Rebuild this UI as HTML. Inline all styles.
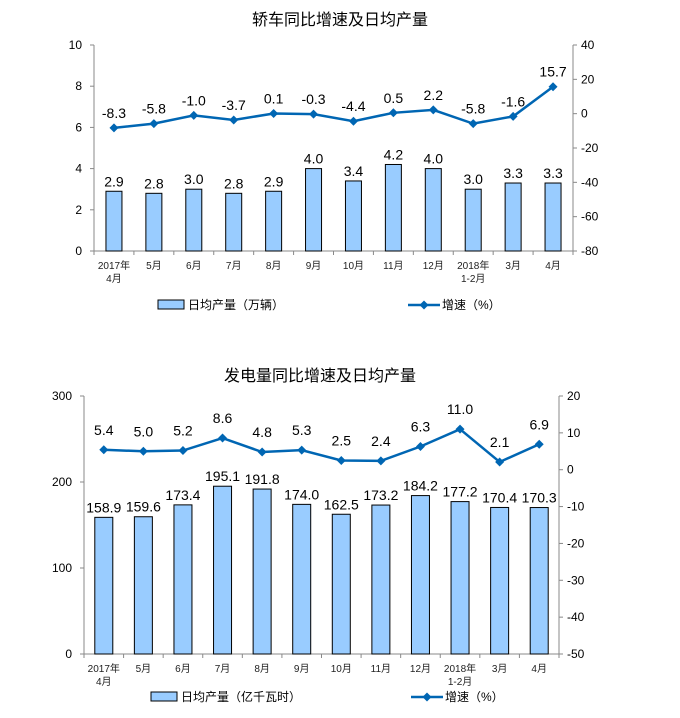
<!DOCTYPE html>
<html><head><meta charset="utf-8"><style>
body{margin:0;background:#fff;}
svg{display:block;font-family:"Liberation Sans","Noto Sans CJK SC",sans-serif;}
</style></head><body>
<svg id="s" width="680" height="718" xmlns="http://www.w3.org/2000/svg"></svg>
<script>
const months=["2017年|4月","5月","6月","7月","8月","9月","10月","11月","12月","2018年|1-2月","3月","4月"];
const carOutput=[2.9,2.8,3.0,2.8,2.9,4.0,3.4,4.2,4.0,3.0,3.3,3.3];
const carGrowth=[-8.3,-5.8,-1.0,-3.7,0.1,-0.3,-4.4,0.5,2.2,-5.8,-1.6,15.7];
const carLeftTicks=[0,2,4,6,8,10];
const carRightTicks=[-80,-60,-40,-20,0,20,40];
const powerOutput=[158.9,159.6,173.4,195.1,191.8,174.0,162.5,173.2,184.2,177.2,170.4,170.3];
const powerGrowth=[5.4,5.0,5.2,8.6,4.8,5.3,2.5,2.4,6.3,11.0,2.1,6.9];
const powerLeftTicks=[0,100,200,300];
const powerRightTicks=[-50,-40,-30,-20,-10,0,10,20];

const svg=document.getElementById('s');
const NS="http://www.w3.org/2000/svg";
function mk(tag,attrs,parent,text){const e=document.createElementNS(NS,tag);for(const k in attrs)e.setAttribute(k,attrs[k]);if(text!==undefined)e.textContent=text;parent.appendChild(e);return e;}

function chart(cfg){
  const g=mk('g',{},svg);
  
  
  const {x0,x1,yTop,yBot,lmin,lmax,rmin,rmax}=cfg;
  const n=months.length, cw=(x1-x0)/n;
  const yL=v=>yBot-(v-lmin)/(lmax-lmin)*(yBot-yTop);
  const yR=v=>yBot-(v-rmin)/(rmax-rmin)*(yBot-yTop);
  const cx=i=>x0+cw*(i+0.5);
  const t=mk('text',{x:cfg.titleX,y:cfg.titleY,'font-size':16,'text-anchor':'middle',fill:'#000'},g,cfg.title);
  
  
  mk('line',{x1:x0,y1:yTop,x2:x0,y2:yBot,stroke:'#888'},g);
  mk('line',{x1:x1,y1:yTop,x2:x1,y2:yBot,stroke:'#888'},g);
  mk('line',{x1:x0,y1:yBot,x2:x1,y2:yBot,stroke:'#888'},g);
  cfg.lt.forEach(v=>{mk('line',{x1:x0-4,y1:yL(v),x2:x0,y2:yL(v),stroke:'#888'},g);
    const e=mk('text',{x:x0-12,y:yL(v)+4,'font-size':12,'text-anchor':'end'},g,v);
    });
  cfg.rt.forEach(v=>{mk('line',{x1:x1,y1:yR(v),x2:x1+4,y2:yR(v),stroke:'#888'},g);
    const e=mk('text',{x:x1+8,y:yR(v)+4,'font-size':12},g,v);
    });
  for(let i=0;i<=n;i++)mk('line',{x1:x0+cw*i,y1:yBot,x2:x0+cw*i,y2:yBot+4,stroke:'#888'},g);
  months.forEach((m,i)=>{const p=m.split('|');p.forEach((s,j)=>{
    const e=mk('text',{x:cx(i),y:yBot+18+j*13,'font-size':10,'text-anchor':'middle',fill:'#222'},g,s);
    });});
  cfg.bars.forEach((v,i)=>{
    const r=mk('rect',{x:cx(i)-cfg.bw/2,y:yL(v),width:cfg.bw,height:yBot-yL(v),fill:'#99ccff',stroke:'#000','stroke-width':1},g);
    
    const e=mk('text',{x:cx(i),y:yL(v)-5,'font-size':14,'text-anchor':'middle'},g,v.toFixed(1));
    });
  const pts=cfg.line.map((v,i)=>cx(i)+','+yR(v)).join(' ');
  const pl=mk('polyline',{points:pts,fill:'none',stroke:'#0066b3','stroke-width':2.5},g);
  
  cfg.line.forEach((v,i)=>{const y=yR(v),x=cx(i);
    const d=mk('polygon',{points:`${x},${y-4.5} ${x+4.5},${y} ${x},${y+4.5} ${x-4.5},${y}`,fill:'#0066b3'},g);
    
    const e=mk('text',{x:x,y:y-cfg.lo,'font-size':14,'text-anchor':'middle'},g,v.toFixed(1));
    });
  const lg=mk('g',{},g);
  
  mk('rect',{x:cfg.lgx,y:cfg.lgy-5,width:26,height:9,fill:'#99ccff',stroke:'#000'},lg);
  mk('text',{x:cfg.lgx+30,y:cfg.lgy+4,'font-size':12},lg,cfg.barLabel);
  mk('line',{x1:cfg.lgx2,y1:cfg.lgy,x2:cfg.lgx2+32,y2:cfg.lgy,stroke:'#0066b3','stroke-width':2.5},lg);
  const mx=cfg.lgx2+16;
  mk('polygon',{points:`${mx},${cfg.lgy-4.5} ${mx+4.5},${cfg.lgy} ${mx},${cfg.lgy+4.5} ${mx-4.5},${cfg.lgy}`,fill:'#0066b3'},lg);
  mk('text',{x:cfg.lgx2+34,y:cfg.lgy+4,'font-size':12},lg,'增速（%）');
}
chart({name:'car-chart',title:'轿车同比增速及日均产量',titleX:340,titleY:25,x0:94,x1:573,yTop:45,yBot:251,
  lmin:0,lmax:10,rmin:-80,rmax:40,lt:carLeftTicks,rt:carRightTicks,bars:carOutput,line:carGrowth,bw:16,lo:10,
  lgx:158,lgx2:408,lgy:305,barLabel:'日均产量（万辆）'});
chart({name:'power-chart',title:'发电量同比增速及日均产量',titleX:320,titleY:381,x0:84,x1:559,yTop:396,yBot:654,
  lmin:0,lmax:300,rmin:-50,rmax:20,lt:powerLeftTicks,rt:powerRightTicks,bars:powerOutput,line:powerGrowth,bw:18,lo:15,
  lgx:151,lgx2:411,lgy:697,barLabel:'日均产量（亿千瓦时）'});
</script>
</body></html>
